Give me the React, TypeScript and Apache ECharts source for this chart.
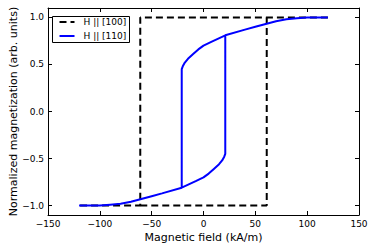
import React, { useEffect, useRef } from "react";
import * as echarts from "echarts";

// H || [100]: square loop corners
const squareFieldA = [120, -61, -61, -120];
const squareMagA = [1, 1, -1, -1];
const squareFieldB = [-61, 61, 61];
const squareMagB = [-1, -1, 1];

// H || [110]: descending branch (from +120 down to the jump at -21)
const descField = [120, 100, 90, 80, 70, 60, 50, 40, 21, 7.5, 0, -5, -10, -15, -18, -20, -21];
const descMag = [1.0, 1.0, 0.99, 0.98, 0.96, 0.93, 0.9, 0.87, 0.81, 0.74, 0.7, 0.66, 0.61, 0.56, 0.52, 0.48, 0.45];
// ascending branch (from -120 up to the jump at +21)
const ascField = [-120, -100, -90, -80, -70, -60, -50, -40, -21, -7.5, 0, 5, 10, 15, 18, 20, 21];
const ascMag = [-1.0, -1.0, -0.99, -0.98, -0.96, -0.93, -0.9, -0.87, -0.81, -0.74, -0.7, -0.66, -0.61, -0.56, -0.52, -0.48, -0.45];

const xTicks = [-150, -100, -50, 0, 50, 100, 150];
const yTicks = [-1.0, -0.5, 0.0, 0.5, 1.0];
const legendNames = ["H || [100]", "H || [110]"];

const FONT = "DejaVu Sans";

function pairs(xs: number[], ys: number[]) {
  return xs.map((x, i) => [x, ys[i]]);
}

export default function App() {
  const ref = useRef<HTMLDivElement>(null);
  useEffect(() => {
    if (!ref.current) return;
    const chart = echarts.init(ref.current, null, { renderer: "svg" });

    const desc = pairs(descField, descMag);
    const asc = pairs(ascField, ascMag);
    const jumpDown = ascField.indexOf(-21);
    const jumpUp = descField.indexOf(21);
    const bluePath = [
      ...desc,
      ...asc.slice(0, jumpDown + 1).reverse(),
      ...asc,
      ...desc.slice(0, jumpUp + 1).reverse(),
    ];

    const minus = (s: string) => s.replace("-", "\u2212");
    const black = "#000";
    const blue = "#0000ff";

    chart.setOption({
      animation: false,
      backgroundColor: "#fff",
      textStyle: { fontFamily: FONT },
      grid: { left: 48, right: 15, top: 8, bottom: 36, containLabel: false, outerBoundsMode: "none" },
      graphic: [
        {
          type: "group",
          left: 52,
          top: 16,
          z: 100,
          children: [
            {
              type: "rect",
              shape: { x: 0, y: 0, width: 77, height: 26 },
              style: { fill: "#fff", stroke: black, lineWidth: 1 },
            },
            {
              type: "line",
              shape: { x1: 7, y1: 5.5, x2: 22, y2: 5.5 },
              style: { stroke: black, lineWidth: 2, lineDash: [7, 4] },
            },
            {
              type: "text",
              x: 31,
              y: 5.5,
              style: { text: legendNames[0], fontFamily: FONT, fontSize: 9, fill: black, verticalAlign: "middle" },
            },
            {
              type: "line",
              shape: { x1: 7, y1: 19.5, x2: 22, y2: 19.5 },
              style: { stroke: blue, lineWidth: 2 },
            },
            {
              type: "text",
              x: 31,
              y: 19.5,
              style: { text: legendNames[1], fontFamily: FONT, fontSize: 9, fill: black, verticalAlign: "middle" },
            },
          ],
        },
      ],
      xAxis: [
        {
          type: "value",
          min: -150,
          max: 150,
          interval: 50,
          name: "Magnetic field (kA/m)",
          nameLocation: "middle",
          nameGap: 17,
          nameMoveOverlap: false,
          nameTextStyle: { fontFamily: FONT, fontSize: 11, color: black },
          axisLine: { show: true, onZero: false, lineStyle: { color: black, width: 1 } },
          axisTick: { show: true, inside: true, length: 4, lineStyle: { color: black } },
          axisLabel: {
            margin: 4,
            fontFamily: FONT,
            fontSize: 9,
            color: black,
            customValues: xTicks,
            formatter: (v: number) => minus(String(v)),
          },
          splitLine: { show: false },
        },
        {
          type: "value",
          position: "top",
          min: -150,
          max: 150,
          interval: 50,
          axisLine: { show: true, onZero: false, lineStyle: { color: black, width: 1 } },
          axisTick: { show: true, inside: true, length: 4, lineStyle: { color: black } },
          axisLabel: { show: false },
          splitLine: { show: false },
        },
      ],
      yAxis: [
        {
          type: "value",
          min: -1.1,
          max: 1.1,
          name: "Normalized magnetization (arb. units)",
          nameLocation: "middle",
          nameGap: 29,
          nameMoveOverlap: false,
          nameTextStyle: { fontFamily: FONT, fontSize: 11, color: black },
          axisLine: { show: true, onZero: false, lineStyle: { color: black, width: 1 } },
          axisTick: { show: true, inside: true, length: 4, lineStyle: { color: black }, customValues: yTicks },
          axisLabel: {
            margin: 4,
            fontFamily: FONT,
            fontSize: 9,
            color: black,
            customValues: yTicks,
            formatter: (v: number) => minus(v.toFixed(1)),
          },
          splitLine: { show: false },
        },
        {
          type: "value",
          position: "right",
          min: -1.1,
          max: 1.1,
          axisLine: { show: true, onZero: false, lineStyle: { color: black, width: 1 } },
          axisTick: { show: true, inside: true, length: 4, lineStyle: { color: black }, customValues: yTicks },
          axisLabel: { show: false },
          splitLine: { show: false },
        },
      ],
      series: [
        {
          name: legendNames[0],
          type: "line",
          showSymbol: false,
          symbol: "none",
          data: pairs(squareFieldA, squareMagA),
          lineStyle: { color: black, width: 2, type: [7, 4] },
          z: 2,
        },
        {
          name: legendNames[0],
          type: "line",
          showSymbol: false,
          symbol: "none",
          data: pairs(squareFieldB, squareMagB),
          lineStyle: { color: black, width: 2, type: [7, 4] },
          z: 2,
        },
        {
          name: legendNames[1],
          type: "line",
          showSymbol: false,
          symbol: "none",
          data: bluePath,
          lineStyle: { color: blue, width: 2 },
          z: 3,
        },
      ],
    });
    return () => chart.dispose();
  }, []);
  return (
    <div
      ref={ref}
      style={{ position: "fixed", left: 0, top: 0, width: 374, height: 251 }}
    />
  );
}
